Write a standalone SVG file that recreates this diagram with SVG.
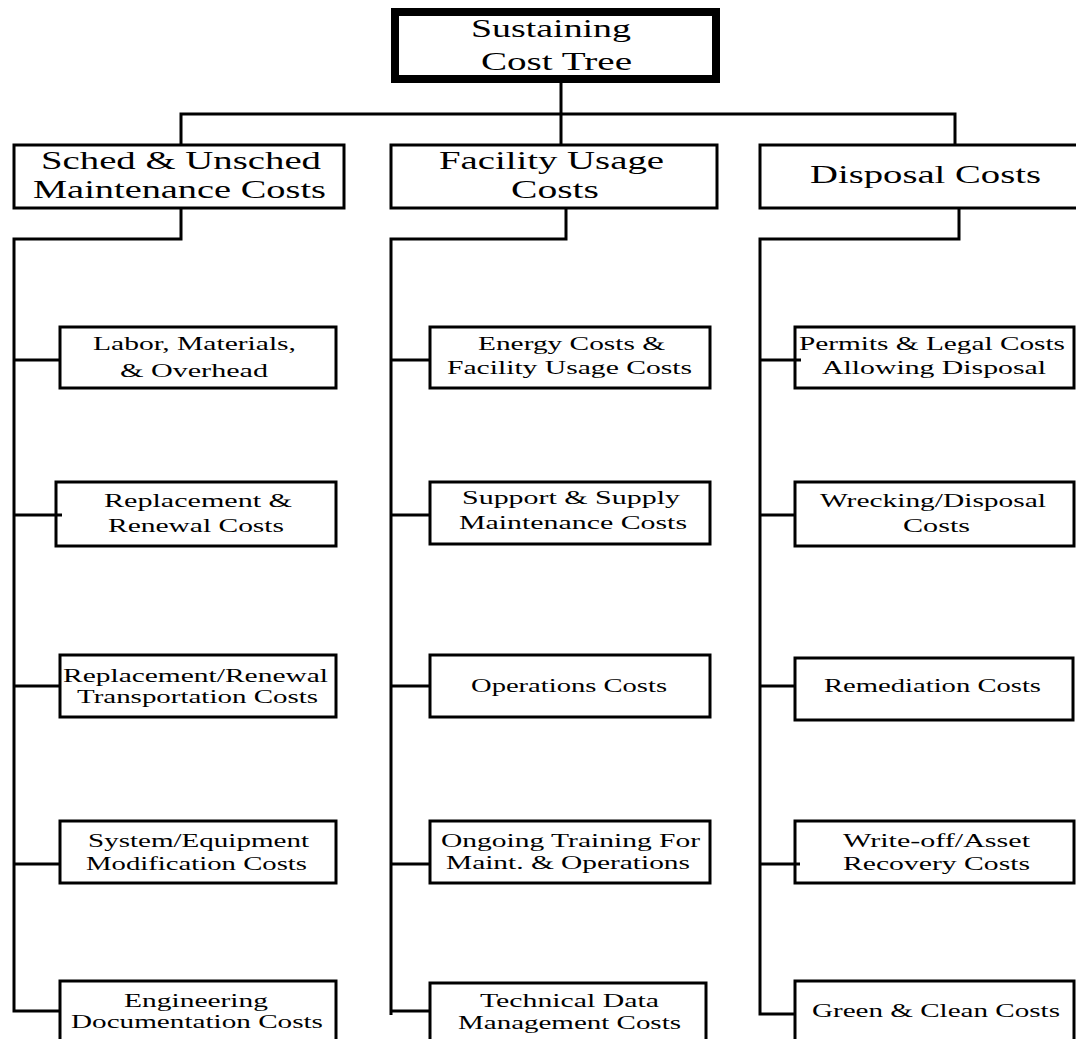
<svg xmlns="http://www.w3.org/2000/svg" width="1076" height="1039" viewBox="0 0 1076 1039">
<style>
.bx{fill:#fff;stroke:#000;stroke-width:3}
.top{fill:#fff;stroke:#000;stroke-width:8}
.t{font-family:"Liberation Serif","Times New Roman",serif;fill:#000}
.l2{font-size:26px}
.lf{font-size:19px}
.cn{fill:none;stroke:#000;stroke-width:3}
</style>
<rect width="1076" height="1039" fill="#fff"/>
<g id="nodes">
<g id="root"><rect class="top" x="395" y="12" width="321" height="67"/>
<text class="t l2" x="471" y="37" textLength="160" lengthAdjust="spacingAndGlyphs">Sustaining</text>
<text class="t l2" x="481" y="70" textLength="151" lengthAdjust="spacingAndGlyphs">Cost Tree</text></g>
<g id="sched"><rect class="bx" x="14" y="145" width="330" height="63"/>
<text class="t l2" x="41" y="169" textLength="280" lengthAdjust="spacingAndGlyphs">Sched &amp; Unsched</text>
<text class="t l2" x="33" y="198" textLength="293" lengthAdjust="spacingAndGlyphs">Maintenance Costs</text></g>
<g id="facility"><rect class="bx" x="391" y="145" width="326" height="63"/>
<text class="t l2" x="439" y="169" textLength="225" lengthAdjust="spacingAndGlyphs">Facility Usage</text>
<text class="t l2" x="511" y="198" textLength="88" lengthAdjust="spacingAndGlyphs">Costs</text></g>
<g id="disposal"><rect class="bx" x="760" y="145" width="320" height="63"/>
<text class="t l2" x="810" y="183" textLength="231" lengthAdjust="spacingAndGlyphs">Disposal Costs</text></g>

<g id="labor"><rect class="bx" x="60" y="327" width="276" height="61"/>
<text class="t lf" x="93" y="350" textLength="203" lengthAdjust="spacingAndGlyphs">Labor, Materials,</text>
<text class="t lf" x="120" y="377" textLength="148" lengthAdjust="spacingAndGlyphs">&amp; Overhead</text></g>
<g id="replacement"><rect class="bx" x="56" y="482" width="280" height="64"/>
<text class="t lf" x="104" y="507" textLength="188" lengthAdjust="spacingAndGlyphs">Replacement &amp;</text>
<text class="t lf" x="108" y="532" textLength="176" lengthAdjust="spacingAndGlyphs">Renewal Costs</text></g>
<g id="transport"><rect class="bx" x="60" y="655" width="276" height="62"/>
<text class="t lf" x="63" y="682" textLength="265" lengthAdjust="spacingAndGlyphs">Replacement/Renewal</text>
<text class="t lf" x="77" y="703" textLength="241" lengthAdjust="spacingAndGlyphs">Transportation Costs</text></g>
<g id="modification"><rect class="bx" x="60" y="821" width="276" height="62"/>
<text class="t lf" x="88" y="847" textLength="221" lengthAdjust="spacingAndGlyphs">System/Equipment</text>
<text class="t lf" x="86" y="870" textLength="221" lengthAdjust="spacingAndGlyphs">Modification Costs</text></g>
<g id="engineering"><rect class="bx" x="60" y="981" width="276" height="70"/>
<text class="t lf" x="124" y="1007" textLength="144" lengthAdjust="spacingAndGlyphs">Engineering</text>
<text class="t lf" x="71" y="1028" textLength="252" lengthAdjust="spacingAndGlyphs">Documentation Costs</text></g>

<g id="energy"><rect class="bx" x="430" y="327" width="280" height="61"/>
<text class="t lf" x="478" y="350" textLength="187" lengthAdjust="spacingAndGlyphs">Energy Costs &amp;</text>
<text class="t lf" x="447" y="374" textLength="245" lengthAdjust="spacingAndGlyphs">Facility Usage Costs</text></g>
<g id="support"><rect class="bx" x="430" y="482" width="280" height="62"/>
<text class="t lf" x="462" y="504" textLength="218" lengthAdjust="spacingAndGlyphs">Support &amp; Supply</text>
<text class="t lf" x="459" y="529" textLength="228" lengthAdjust="spacingAndGlyphs">Maintenance Costs</text></g>
<g id="operations"><rect class="bx" x="430" y="655" width="280" height="62"/>
<text class="t lf" x="471" y="692" textLength="196" lengthAdjust="spacingAndGlyphs">Operations Costs</text></g>
<g id="training"><rect class="bx" x="430" y="821" width="280" height="62"/>
<text class="t lf" x="441" y="847" textLength="259" lengthAdjust="spacingAndGlyphs">Ongoing Training For</text>
<text class="t lf" x="446" y="869" textLength="244" lengthAdjust="spacingAndGlyphs">Maint. &amp; Operations</text></g>
<g id="techdata"><rect class="bx" x="430" y="983" width="276" height="70"/>
<text class="t lf" x="480" y="1007" textLength="179" lengthAdjust="spacingAndGlyphs">Technical Data</text>
<text class="t lf" x="458" y="1029" textLength="223" lengthAdjust="spacingAndGlyphs">Management Costs</text></g>

<g id="permits"><rect class="bx" x="795" y="327" width="279" height="61"/>
<text class="t lf" x="799" y="350" textLength="266" lengthAdjust="spacingAndGlyphs">Permits &amp; Legal Costs</text>
<text class="t lf" x="822" y="374" textLength="224" lengthAdjust="spacingAndGlyphs">Allowing Disposal</text></g>
<g id="wrecking"><rect class="bx" x="795" y="482" width="279" height="64"/>
<text class="t lf" x="820" y="507" textLength="226" lengthAdjust="spacingAndGlyphs">Wrecking/Disposal</text>
<text class="t lf" x="903" y="532" textLength="67" lengthAdjust="spacingAndGlyphs">Costs</text></g>
<g id="remediation"><rect class="bx" x="795" y="658" width="278" height="62"/>
<text class="t lf" x="824" y="692" textLength="217" lengthAdjust="spacingAndGlyphs">Remediation Costs</text></g>
<g id="writeoff"><rect class="bx" x="795" y="821" width="279" height="62"/>
<text class="t lf" x="843" y="847" textLength="187" lengthAdjust="spacingAndGlyphs">Write-off/Asset</text>
<text class="t lf" x="843" y="870" textLength="187" lengthAdjust="spacingAndGlyphs">Recovery Costs</text></g>
<g id="green"><rect class="bx" x="795" y="981" width="279" height="70"/>
<text class="t lf" x="812" y="1017" textLength="248" lengthAdjust="spacingAndGlyphs">Green &amp; Clean Costs</text></g>
</g>
<g id="connectors">
<path class="cn" d="M561 83V145M181 145V114H955V145"/>
<path class="cn" d="M181 209V239H14V1011H60M14 360H60M14 515H62M14 686H60M14 864H60"/>
<path class="cn" d="M566 209V239H391V1015M391 360H430M391 515H430M391 686H430M391 864H430M391 1011H430"/>
<path class="cn" d="M959 209V239H760V1014H795M760 360H801M760 515H795M760 686H795M760 864H800"/>
</g>
</svg>
